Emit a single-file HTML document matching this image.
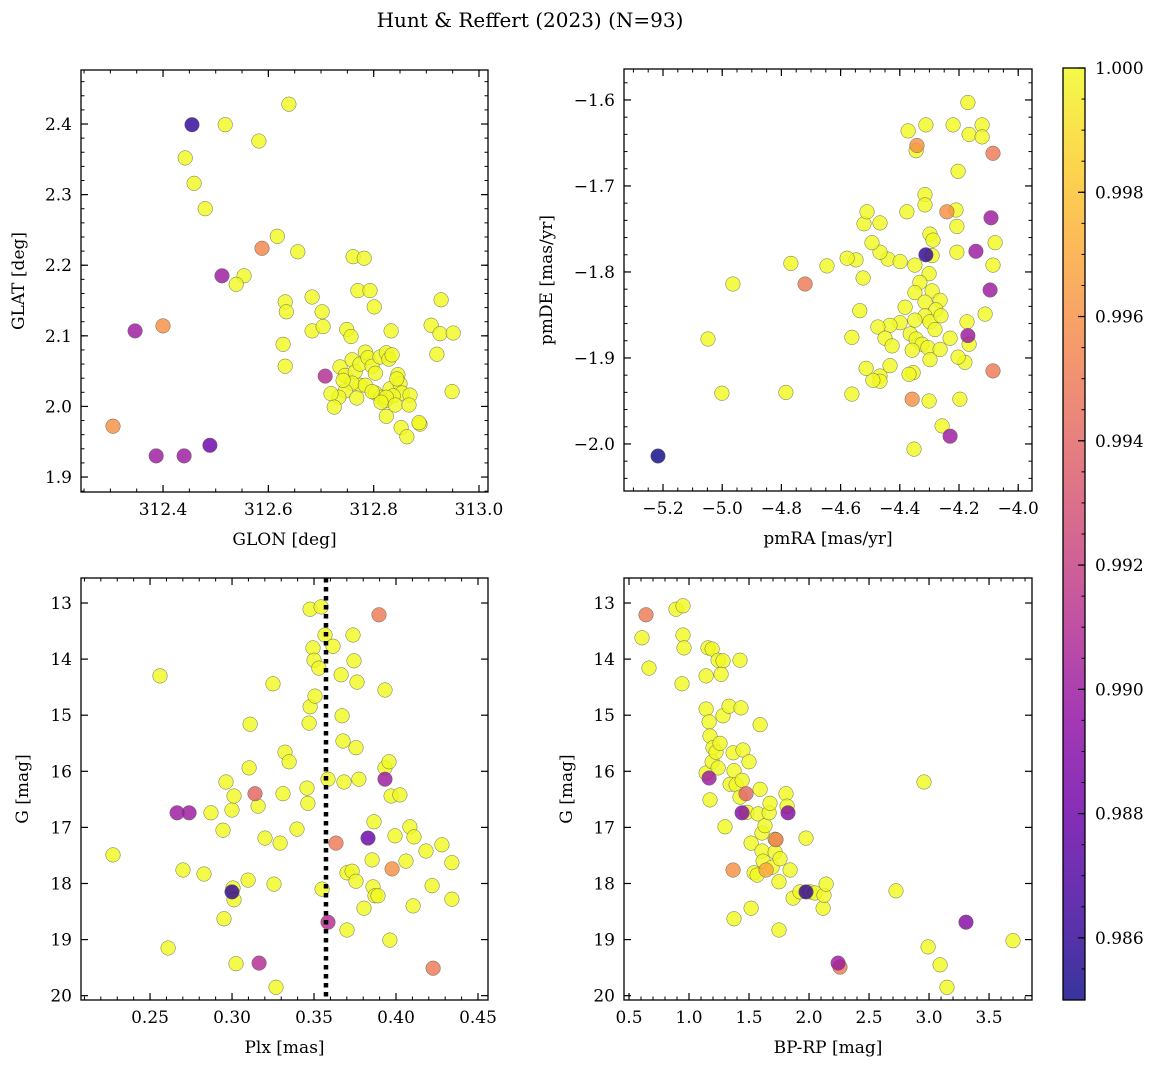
<!DOCTYPE html>
<html><head><meta charset="utf-8">
<style>
html,body{margin:0;padding:0;background:#fff;}
svg{display:block;font-family:"DejaVu Serif","Liberation Serif",serif;}
</style></head>
<body>
<svg id="fig" width="1161" height="1068" viewBox="0 0 1161 1068" xmlns="http://www.w3.org/2000/svg">
<defs>
<linearGradient id="plasmaGrad" x1="0" y1="1" x2="0" y2="0"></linearGradient>
</defs>
<text x="530" y="27" font-size="20" text-anchor="middle">Hunt &amp; Reffert (2023) (N=93)</text>
</svg>
<script>
// ---------- Panel 1: GLON / GLAT ----------
const glon1 = [312.455,312.518,312.442,312.459,312.480,312.639,312.582,312.588,312.617,312.656,312.554,312.512,312.539,312.347,312.400,312.305,312.387,312.440,312.489,312.632,312.634,312.628,312.632,312.683,312.702,312.683,312.704,312.708,312.761,312.782,312.770,312.793,312.801,312.749,312.757,312.833,312.928,312.909,312.926,312.951,312.920,312.736,312.746,312.759,312.765,312.774,312.784,312.789,312.797,312.803,312.812,312.824,312.829,312.835,312.774,312.759,312.746,312.734,312.719,312.725,312.742,312.784,312.803,312.814,312.822,312.831,312.846,312.850,312.854,312.837,312.824,312.814,312.841,312.869,312.867,312.824,312.888,312.852,312.863,312.886,312.949,312.844,312.768,312.797];
const glat1 = [2.399,2.399,2.352,2.316,2.280,2.428,2.376,2.224,2.241,2.219,2.185,2.185,2.173,2.107,2.114,1.972,1.930,1.930,1.945,2.148,2.134,2.088,2.057,2.155,2.134,2.107,2.113,2.043,2.212,2.210,2.164,2.164,2.141,2.109,2.099,2.107,2.151,2.115,2.103,2.104,2.074,2.056,2.044,2.066,2.049,2.060,2.077,2.069,2.057,2.047,2.070,2.076,2.067,2.073,2.030,2.033,2.022,2.013,2.018,1.999,2.037,2.030,2.019,2.013,2.008,2.025,2.045,2.032,2.019,2.015,2.013,2.006,2.002,2.016,2.002,1.986,1.975,1.970,1.957,1.977,2.021,2.039,2.012,2.021];
const prob1 = [0.986,1,1,1,1,1,1,0.9955,1,1,1,0.990,1,0.990,0.996,0.996,0.990,0.990,0.988,1,1,1,1,1,1,1,1,0.991,1,1,1,1,1,1,1,1,1,1,1,1,1,1,1,1,1,1,1,1,1,1,1,1,1,1,1,1,1,1,1,1,1,1,1,1,1,1,1,1,1,1,1,1,1,1,1,1,1,1,1,1,1,1,1,1];
const xticks1 = [312.4,312.6,312.8,313.0];
const xtickLabels1 = ["312.4","312.6","312.8","313.0"];
const yticks1 = [1.9,2.0,2.1,2.2,2.3,2.4];
const ytickLabels1 = ["1.9","2.0","2.1","2.2","2.3","2.4"];

// ---------- Panel 2: pmRA / pmDE ----------
const pmra2 = [-5.217,-5.001,-4.785,-5.048,-4.964,-4.646,-4.768,-4.720,-4.562,-4.535,-4.524,-4.548,-4.578,-4.440,-4.467,-4.494,-4.521,-4.511,-4.467,-4.376,-4.372,-4.345,-4.342,-4.312,-4.220,-4.170,-4.166,-4.122,-4.122,-4.085,-4.203,-4.241,-4.210,-4.315,-4.315,-4.298,-4.288,-4.207,-4.207,-4.092,-4.078,-4.085,-4.143,-4.095,-4.112,-4.085,-4.312,-4.291,-4.399,-4.349,-4.301,-4.332,-4.291,-4.349,-4.315,-4.264,-4.278,-4.315,-4.298,-4.349,-4.382,-4.399,-4.433,-4.474,-4.450,-4.426,-4.365,-4.345,-4.325,-4.305,-4.264,-4.281,-4.261,-4.173,-4.170,-4.166,-4.180,-4.203,-4.230,-4.298,-4.358,-4.355,-4.369,-4.467,-4.467,-4.491,-4.358,-4.301,-4.197,-4.257,-4.230,-4.352,-4.433,-4.514,-4.562];
const pmde2 = [-2.014,-1.941,-1.940,-1.878,-1.814,-1.793,-1.790,-1.814,-1.876,-1.845,-1.807,-1.786,-1.784,-1.785,-1.777,-1.766,-1.744,-1.730,-1.743,-1.730,-1.636,-1.659,-1.653,-1.629,-1.629,-1.603,-1.640,-1.629,-1.643,-1.662,-1.683,-1.730,-1.728,-1.710,-1.722,-1.756,-1.763,-1.747,-1.777,-1.737,-1.766,-1.792,-1.776,-1.821,-1.849,-1.915,-1.780,-1.781,-1.788,-1.792,-1.802,-1.812,-1.822,-1.824,-1.835,-1.833,-1.844,-1.851,-1.858,-1.856,-1.841,-1.859,-1.862,-1.864,-1.877,-1.886,-1.872,-1.878,-1.884,-1.888,-1.890,-1.867,-1.851,-1.858,-1.874,-1.884,-1.905,-1.899,-1.877,-1.902,-1.891,-1.917,-1.919,-1.921,-1.927,-1.926,-1.948,-1.950,-1.948,-1.979,-1.991,-2.006,-1.909,-1.912,-1.942];
const prob2 = [0.985,1,1,1,1,1,1,0.995,1,1,1,1,1,1,1,1,1,1,1,1,1,1,0.996,1,1,1,1,1,1,0.995,1,0.996,1,1,1,1,1,1,1,0.990,1,1,0.990,0.990,1,0.995,0.986,1,1,1,1,1,1,1,1,1,1,1,1,1,1,1,1,1,1,1,1,1,1,1,1,1,1,1,0.990,1,1,1,1,1,1,1,1,1,1,1,0.996,1,1,1,0.990,1,1,1,1];
const xticks2 = [-5.2,-5.0,-4.8,-4.6,-4.4,-4.2,-4.0];
const xtickLabels2 = ["\u22125.2","\u22125.0","\u22124.8","\u22124.6","\u22124.4","\u22124.2","\u22124.0"];
const yticks2 = [-2.0,-1.9,-1.8,-1.7,-1.6];
const ytickLabels2 = ["\u22122.0","\u22121.9","\u22121.8","\u22121.7","\u22121.6"];

// ---------- Panel 3: Plx / G ----------
const plx3 = [0.2274,0.2561,0.2610,0.2665,0.2738,0.2701,0.2829,0.2872,0.2945,0.2951,0.2963,0.3000,0.3006,0.3012,0.3012,0.3000,0.3024,0.3110,0.3104,0.3098,0.3140,0.3159,0.3165,0.3201,0.3250,0.3268,0.3256,0.3293,0.3311,0.3323,0.3348,0.3396,0.3457,0.3463,0.3470,0.3476,0.3506,0.3494,0.3500,0.3530,0.3476,0.3543,0.3567,0.3585,0.3549,0.3585,0.3616,0.3634,0.3665,0.3671,0.3677,0.3683,0.3738,0.3744,0.3762,0.3756,0.3774,0.3701,0.3701,0.3732,0.3756,0.3805,0.3829,0.3854,0.3866,0.3860,0.3872,0.3890,0.3896,0.3933,0.3933,0.3933,0.3957,0.3963,0.3970,0.3976,0.3994,0.4024,0.4061,0.4085,0.4110,0.4104,0.4183,0.4220,0.4280,0.4341,0.4341,0.4226];
const g3 = [17.49,14.30,19.15,16.74,16.74,17.76,17.83,16.74,17.05,18.63,16.19,16.69,18.08,18.29,16.44,18.15,19.43,15.16,15.94,17.94,16.40,16.62,19.42,17.19,14.44,19.85,18.01,17.28,16.40,15.66,15.83,17.03,16.30,16.57,15.14,14.85,14.66,13.80,14.02,14.16,13.11,13.07,13.57,16.14,18.10,18.69,13.77,17.28,14.28,15.01,15.46,16.19,13.57,14.03,14.41,15.58,16.14,17.81,18.83,17.78,17.96,18.44,17.19,17.58,16.90,18.06,18.22,18.22,13.21,14.55,15.94,16.14,15.83,19.01,16.44,17.74,17.15,16.42,17.60,16.99,17.17,18.40,17.42,18.04,17.31,17.63,18.28,19.51];
const prob3 = [1,1,1,0.990,0.990,1,1,1,1,1,1,1,1,1,1,0.986,1,1,1,1,0.994,1,0.991,1,1,1,1,1,1,1,1,1,1,1,1,1,1,1,1,1,1,1,1,1,1,0.991,1,0.995,1,1,1,1,1,1,1,1,1,1,1,1,1,1,0.988,1,1,1,1,1,0.995,1,1,0.990,1,1,1,0.996,1,1,1,1,1,1,1,1,1,1,1,0.995];
const xticks3 = [0.25,0.30,0.35,0.40,0.45];
const xtickLabels3 = ["0.25","0.30","0.35","0.40","0.45"];
const gticks = [13,14,15,16,17,18,19,20];
const gtickLabels = ["13","14","15","16","17","18","19","20"];
const plxMarker = [0.3573];

// ---------- Panel 4: BP-RP / G ----------
const bprp4 = [0.642,0.608,0.667,0.892,0.942,0.950,0.950,0.958,1.142,1.158,1.192,1.242,1.283,1.267,1.142,1.167,1.175,1.200,1.142,1.192,1.225,1.242,1.258,1.283,1.175,1.167,1.300,1.333,1.342,1.367,1.375,1.392,1.425,1.433,1.450,1.475,1.425,1.442,1.442,1.375,1.367,1.483,1.500,1.517,1.517,1.542,1.567,1.575,1.592,1.592,1.608,1.608,1.617,1.633,1.642,1.667,1.675,1.692,1.717,1.717,1.725,1.750,1.758,1.750,1.808,1.817,1.825,1.842,1.867,1.925,1.975,1.975,2.008,2.050,2.117,2.125,2.142,2.242,2.258,2.725,2.958,2.992,3.092,3.150,3.308,3.700];
const g4 = [13.21,13.62,14.16,13.11,14.44,13.05,13.57,13.80,14.30,13.80,13.82,14.02,14.03,14.27,14.89,15.12,15.37,15.58,16.03,15.83,15.66,15.94,15.50,15.01,16.51,16.12,16.99,14.84,16.23,15.67,15.99,16.24,14.02,14.87,15.62,16.40,16.46,16.16,16.74,18.63,17.76,16.73,15.83,17.28,18.44,17.81,17.85,16.76,15.17,16.32,17.10,17.42,17.60,16.97,17.76,16.74,16.57,17.71,17.21,17.44,17.22,18.83,17.56,17.97,16.40,16.62,16.74,17.76,18.26,18.15,18.15,17.19,18.15,18.17,18.44,18.21,18.01,19.42,19.49,18.13,16.19,19.13,19.45,19.85,18.69,19.02];
const prob4 = [0.995,1,1,1,1,1,1,1,1,1,1,1,1,1,1,1,1,1,1,1,1,1,1,1,1,0.990,1,1,1,1,1,1,1,1,1,0.994,1,1,0.989,1,0.996,1,1,1,1,1,1,1,1,1,1,1,1,1,0.997,1,1,1,1,1,0.995,1,1,1,1,1,0.989,1,1,1,0.986,1,1,1,1,1,1,0.990,0.995,1,1,1,1,1,0.989,1];
const xticks4 = [0.5,1.0,1.5,2.0,2.5,3.0,3.5];
const xtickLabels4 = ["0.5","1.0","1.5","2.0","2.5","3.0","3.5"];

// ---------- Colorbar ----------
const cbTicks = [0.986,0.988,0.990,0.992,0.994,0.996,0.998,1.000];
const cbTickLabels = ["0.986","0.988","0.990","0.992","0.994","0.996","0.998","1.000"];
const VMIN = 0.985, VMAX = 1.0;

const NS = "http://www.w3.org/2000/svg";
const svg = document.getElementById('fig');
const plasma = ["#0d0887","#41049d","#6a00a8","#8f0da4","#b12a90","#cc4778","#e16462","#f2844b","#fca636","#fcce25","#f0f921"];
function hex2rgb(h){return [parseInt(h.substr(1,2),16),parseInt(h.substr(3,2),16),parseInt(h.substr(5,2),16)];}
function cmap(v){
  let t=(v-VMIN)/(VMAX-VMIN); t=Math.max(0,Math.min(1,t));
  const s=t*(plasma.length-1); const i=Math.min(Math.floor(s),plasma.length-2); const f=s-i;
  const a=hex2rgb(plasma[i]), b=hex2rgb(plasma[i+1]);
  return "rgb("+[0,1,2].map(k=>Math.round(a[k]+(b[k]-a[k])*f)).join(",")+")";
}
function mk(tag,attrs,parent){const e=document.createElementNS(NS,tag);for(const k in attrs)e.setAttribute(k,attrs[k]);(parent||svg).appendChild(e);return e;}

function panel(cfg){
  const g=mk('g',{});
  
  
  const {L,T,R,B,x0,x1,y0,y1}=cfg;
  const sx=v=>L+(v-x0)/(x1-x0)*(R-L);
  const sy=v=>B-(v-y0)/(y1-y0)*(B-T);
  // points
  const pg=mk('g',{},g);
  
  
  // draw yellow first then colored on top (sorted by prob desc)
  const idx=cfg.xs.map((_,i)=>i).sort((a,b)=>cfg.ps[b]-cfg.ps[a]);
  idx.forEach(i=>{
    const c=mk('circle',{cx:sx(cfg.xs[i]).toFixed(1),cy:sy(cfg.ys[i]).toFixed(1),r:7.3,fill:cmap(cfg.ps[i]),'fill-opacity':0.82,stroke:'#6a6a5a','stroke-width':0.5},pg);
    
    
  });
  if(cfg.vline){
    cfg.vline.forEach(v=>{
      const l=mk('line',{x1:sx(v),x2:sx(v),y1:T,y2:B,stroke:'#000','stroke-width':4.5,'stroke-dasharray':'4.5,4.5'},g);
      
      
    });
  }
  // frame
  const fr=mk('rect',{x:L,y:T,width:R-L,height:B-T,fill:'none',stroke:'#000','stroke-width':1.3},g);
  
  
  // minor ticks
  const eps=1e-9;
  for(let v=Math.ceil(x0/cfg.xminor-eps)*cfg.xminor; v<=x1+eps; v+=cfg.xminor){
    const X=sx(v); mk('line',{x1:X,x2:X,y1:B,y2:B-3.5,stroke:'#000','stroke-width':1},g); mk('line',{x1:X,x2:X,y1:T,y2:T+3.5,stroke:'#000','stroke-width':1},g);
  }
  for(let v=Math.ceil(y0/cfg.yminor-eps)*cfg.yminor; v<=y1+eps; v+=cfg.yminor){
    const Y=sy(v); mk('line',{x1:L,x2:L+3.5,y1:Y,y2:Y,stroke:'#000','stroke-width':1},g); mk('line',{x1:R,x2:R-3.5,y1:Y,y2:Y,stroke:'#000','stroke-width':1},g);
  }
  cfg.xt.forEach((v,i)=>{
    const X=sx(v);
    mk('line',{x1:X,x2:X,y1:B,y2:B-7,stroke:'#000','stroke-width':1.2},g);
    mk('line',{x1:X,x2:X,y1:T,y2:T+7,stroke:'#000','stroke-width':1.2},g);
    const t=mk('text',{x:X,y:B+23,'font-size':17,'text-anchor':'middle'},g); t.textContent=cfg.xl[i];
    
    
  });
  cfg.yt.forEach((v,i)=>{
    const Y=sy(v);
    mk('line',{x1:L,x2:L+7,y1:Y,y2:Y,stroke:'#000','stroke-width':1.2},g);
    mk('line',{x1:R,x2:R-7,y1:Y,y2:Y,stroke:'#000','stroke-width':1.2},g);
    const t=mk('text',{x:L-9,y:Y+6,'font-size':17,'text-anchor':'end'},g); t.textContent=cfg.yl[i];
    
    
  });
  const xt=mk('text',{x:(L+R)/2,y:B+53,'font-size':17,'text-anchor':'middle'},g); xt.textContent=cfg.xlabel;
  
  
  const yx=cfg.ylabelX, yy=(T+B)/2;
  const yt=mk('text',{x:yx,y:yy,'font-size':17,'text-anchor':'middle',transform:'rotate(-90 '+yx+' '+yy+')'},g); yt.textContent=cfg.ylabel;
  
  
}

panel({name:'glon-glat-panel',L:81,T:70,R:488,B:492,x0:312.2442,x1:313.0171,y0:1.8788,y1:2.4765,xs:glon1,ys:glat1,ps:prob1,xt:xticks1,xl:xtickLabels1,yt:yticks1,yl:ytickLabels1,xminor:0.05,yminor:0.02,xlabel:'GLON [deg]',ylabel:'GLAT [deg]',ylabelX:24});
panel({name:'proper-motion-panel',L:624,T:69,R:1032,B:491,x0:-5.3318,x1:-3.9534,y0:-2.0547,y1:-1.5640,xs:pmra2,ys:pmde2,ps:prob2,xt:xticks2,xl:xtickLabels2,yt:yticks2,yl:ytickLabels2,xminor:0.05,yminor:0.02,xlabel:'pmRA [mas/yr]',ylabel:'pmDE [mas/yr]',ylabelX:552});
// G axis inverted: use negative values mapping via y0>y1
panel({name:'parallax-magnitude-panel',L:81,T:578,R:488,B:1000,x0:0.2079,x1:0.4561,y0:20.077,y1:12.554,xs:plx3,ys:g3,ps:prob3,xt:xticks3,xl:xtickLabels3,yt:gticks,yl:gtickLabels,xminor:0.01,yminor:-0.2,xlabel:'Plx [mas]',ylabel:'G [mag]',ylabelX:28,vline:plxMarker});
panel({name:'color-magnitude-panel',L:624,T:578,R:1032,B:1000,x0:0.4583,x1:3.858,y0:20.077,y1:12.554,xs:bprp4,ys:g4,ps:prob4,xt:xticks4,xl:xtickLabels4,yt:gticks,yl:gtickLabels,xminor:0.1,yminor:-0.2,xlabel:'BP-RP [mag]',ylabel:'G [mag]',ylabelX:572});

// Colorbar
(function(){
  const grad=document.getElementById('plasmaGrad');
  plasma.forEach((c,i)=>{mk('stop',{offset:(i/(plasma.length-1)),'stop-color':c},grad);});
  const L=1063,R=1085,T=68,B=1000;
  const cy=v=>B-(v-VMIN)/(VMAX-VMIN)*(B-T);
  const g=mk('g',{});
  
  
  mk('rect',{x:L,y:T,width:R-L,height:B-T,fill:'url(#plasmaGrad)','fill-opacity':0.82},g);
  mk('rect',{x:L,y:T,width:R-L,height:B-T,fill:'none',stroke:'#000','stroke-width':1.3},g);
  for(let k=0;k<=30;k++){const v=VMIN+k*0.0005; if(v>VMAX+1e-9)break; const Y=cy(v); mk('line',{x1:R,x2:R-3.5,y1:Y,y2:Y,stroke:'#000','stroke-width':1},g);}
  cbTicks.forEach((v,i)=>{const Y=cy(v); mk('line',{x1:R,x2:R-7,y1:Y,y2:Y,stroke:'#000','stroke-width':1.2},g);
    const t=mk('text',{x:R+10,y:Y+6,'font-size':17},g); t.textContent=cbTickLabels[i];
    
    
  });
})();
</script>
</body></html>
